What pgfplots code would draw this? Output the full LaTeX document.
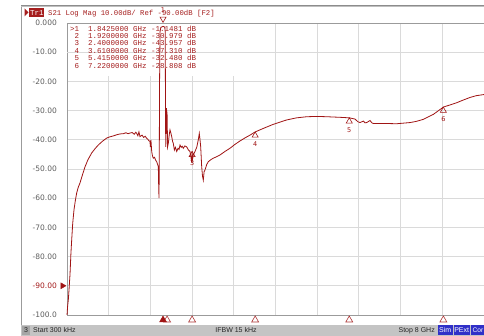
\documentclass[border=0pt]{standalone}
\usepackage{pgfplots}
\pgfplotsset{compat=1.18}
\usepackage{graphicx}
\usepackage{fontspec}
\setmainfont{Liberation Sans}
\newfontfamily\dejavu{DejaVu Sans}
\newfontfamily\mono{Liberation Mono}
\definecolor{trace}{RGB}{160,20,20}
\definecolor{mred}{RGB}{165,30,30}
\definecolor{gridc}{RGB}{218,218,218}
\definecolor{axc}{RGB}{155,155,155}
\definecolor{tickc}{RGB}{95,95,95}
\definecolor{barc}{RGB}{196,196,196}
\definecolor{boxblue}{RGB}{48,48,200}
\begin{document}
\begin{tikzpicture}[x=1pt,y=1pt]
\path[use as bounding box] (0,0) rectangle (484,336);
\fill[white] (0,0) rectangle (484,336);
% window frame
\draw[axc, line width=1pt] (21,11) -- (21,331);
\draw[black!45, line width=1.2pt] (21,330.6) -- (484,330.6);
\draw[black!25, line width=0.8pt] (21,329.3) -- (484,329.3);
% header
\fill[mred] (24.5,327.5) -- (24.5,319.5) -- (28.5,323.5) -- cycle;
\fill[mred] (29,319) rectangle (44,328);
\node[anchor=base west, inner sep=0, text=white, font=\mono\fontsize{7.5}{8}\selectfont] at (30,320.5) {Tr1};
\node[anchor=base west, inner sep=0, text=mred, font=\mono\fontsize{7.3}{8}\selectfont] at (48,320) {S21 Log Mag 10.00dB/ Ref -90.00dB [F2]};
% status bar
\fill[barc] (21,0) rectangle (484,11);
\fill[black!35] (22,1) rectangle (30,10);
\node[anchor=base, inner sep=0, font=\fontsize{7}{8}\selectfont, text=black!85] at (26,3) {3};
\node[anchor=base west, inner sep=0, font=\fontsize{7}{8}\selectfont, text=black!85] at (33,3) {Start 300 kHz};
\node[anchor=base, inner sep=0, font=\fontsize{7}{8}\selectfont, text=black!85] at (236,3) {IFBW 15 kHz};
\node[anchor=base east, inner sep=0, font=\fontsize{7}{8}\selectfont, text=black!85] at (435,3) {Stop 8 GHz};
\fill[boxblue] (438,1) rectangle (452.5,10.5);
\node[anchor=base, inner sep=0, font=\fontsize{7}{8}\selectfont, text=white] at (445.2,3) {Sim};
\fill[boxblue] (454,1) rectangle (469.5,10.5);
\node[anchor=base, inner sep=0, font=\fontsize{7}{8}\selectfont, text=white] at (461.7,3) {PExt};
\fill[boxblue] (471,1) rectangle (486,10.5);
\node[anchor=base east, inner sep=0, font=\fontsize{6.6}{8}\selectfont, text=white] at (483.4,3) {Cor};
\begin{axis}[
  at={(67pt,21pt)}, anchor=south west,
  scale only axis, width=417pt, height=292pt,
  xmin=0, xmax=8, ymin=-100, ymax=0,
  xtick={0,0.8,...,8}, xticklabels={},
  ytick={-100,-90,...,0},
  yticklabels={-100.0,\textcolor{mred}{-90.00},-80.00,-70.00,-60.00,-50.00,-40.00,-30.00,-20.00,-10.00,0.000},
  major tick length=0pt,
  grid=major, grid style={gridc, line width=0.9pt},
  axis line style={axc, line width=0.9pt},
  yticklabel style={font=\dejavu\fontsize{7.5}{8}\selectfont, text=tickc, inner sep=0pt, anchor=east, xshift=-10pt},
  clip=false,
]
% marker table background mask
\fill[white] (axis cs:0.03,-0.4) rectangle (axis cs:3.5,-18.3);
\draw[gridc, line width=0.9pt] (axis cs:0,-10) -- (axis cs:3.5,-10);
% trace
\addplot[trace, line width=0.8pt] coordinates {
(0.0003,-100) (0.012,-97) (0.025,-94.9) (0.04,-91) (0.058,-86) (0.075,-79)
(0.090,-74.3) (0.11,-68.5) (0.134,-64) (0.16,-60.8) (0.186,-58.2) (0.215,-56.3)
(0.249,-54.8) (0.30,-51.8) (0.345,-49.3) (0.40,-46.9) (0.474,-44.5) (0.54,-43)
(0.600,-41.8) (0.68,-40.5) (0.762,-39.4) (0.82,-39.0) (0.883,-38.7) (0.95,-38.3)
(1.017,-38.0) (1.08,-37.9) (1.13,-37.6) (1.17,-37.9) (1.209,-37.7) (1.25,-37.5)
(1.29,-38.1) (1.32,-37.4) (1.337,-37.8) (1.36,-38.6) (1.38,-37.3) (1.40,-38.9)
(1.44,-38.4) (1.47,-39.2) (1.50,-38.8) (1.529,-39.5) (1.55,-39.8) (1.57,-40.3)
(1.592,-40.6) (1.60,-42.5) (1.61,-40.0) (1.625,-44) (1.64,-45.5) (1.656,-46.3)
(1.68,-46.0) (1.70,-47.0) (1.721,-47.5) (1.74,-48.5) (1.752,-49.2) (1.758,-55)
(1.765,-60) (1.770,-48) (1.776,-20) (1.785,-3) (1.80,-1.5) (1.8425,-1.15)
(1.875,-1.4) (1.884,-3) (1.890,-30) (1.894,-42.4) (1.900,-40) (1.906,-29.2)
(1.92,-30.98) (1.93,-42.4) (1.944,-41.2) (1.96,-38.5) (1.976,-36.6) (1.99,-37.5)
(2.009,-38.9) (2.025,-40.5) (2.039,-41.2) (2.06,-43.5) (2.08,-42.6) (2.105,-44)
(2.13,-42.9) (2.15,-43.3) (2.168,-41.8) (2.19,-42.6) (2.21,-42.2) (2.231,-42.9)
(2.26,-42.1) (2.296,-42.4) (2.33,-43.5) (2.360,-44) (2.375,-45.6) (2.392,-47.8)
(2.40,-43.96) (2.41,-46.5) (2.423,-45.2) (2.44,-44.6) (2.456,-44) (2.49,-42.5)
(2.519,-40.0) (2.538,-37.8) (2.552,-40.0) (2.565,-42.4) (2.584,-49.2) (2.60,-52.5)
(2.615,-53.8) (2.63,-51) (2.648,-50.3) (2.68,-48.5) (2.711,-47.5) (2.76,-46.8)
(2.807,-46.3) (2.87,-45.8) (2.935,-45.2) (3.03,-44.0) (3.127,-42.9) (3.22,-41.6)
(3.319,-40.4) (3.42,-39.3) (3.511,-38.4) (3.61,-37.31) (3.78,-36.0) (3.958,-34.7)
(4.215,-33.2) (4.40,-32.5) (4.599,-32.1) (4.80,-32.0) (4.982,-32.1) (5.237,-32.3)
(5.415,-32.48) (5.525,-32.9) (5.58,-33.8) (5.621,-34.1) (5.685,-33.6) (5.72,-34.2)
(5.750,-34.1) (5.813,-33.4) (5.85,-34.2) (5.876,-34.4) (6.068,-34.4) (6.325,-34.5)
(6.580,-34.1) (6.70,-33.7) (6.836,-33.0) (7.028,-31.3) (7.22,-28.81) (7.477,-27.3)
(7.60,-26.4) (7.732,-25.5) (7.85,-24.9) (7.924,-24.7) (8.0,-24.5)
};
% trace markers 3-6
\addplot[only marks, mark=triangle, mark size=3.5pt,
  mark options={draw=trace, fill=white, line width=0.6pt, yshift=-3.5pt},
  nodes near coords, point meta=explicit symbolic,
  every node near coord/.append style={anchor=north, yshift=-5.5pt, inner sep=0.3pt, font=\dejavu\fontsize{6.5}{7}\selectfont, text=trace}]
  coordinates {(2.4,-43.957)[3] (3.61,-37.31)[4] (5.415,-32.48)[5] (7.22,-28.808)[6]};
% marker 1 at top
\addplot[only marks, mark=triangle, mark size=3.5pt,
  mark options={draw=trace, fill=white, line width=0.6pt, yshift=7.5pt, rotate=180},
  nodes near coords, point meta=explicit symbolic,
  every node near coord/.append style={anchor=north, yshift=12pt, inner sep=0.3pt, font=\dejavu\fontsize{6.5}{7}\selectfont, text=trace}]
  coordinates {(1.8425,-1.1481)[1]};
% bottom marker strip
\addplot[only marks, mark=triangle, mark size=4pt, mark options={draw=trace!85, fill=white, line width=0.6pt}]
  coordinates {(1.92,-101.7) (2.4,-101.7) (3.61,-101.7) (5.415,-101.7) (7.22,-101.7)};
\addplot[only marks, mark=triangle*, mark size=4pt, mark options={draw=trace, fill=trace}]
  coordinates {(1.8425,-101.7)};
% reference level marker
\addplot[only marks, mark=triangle*, mark size=3.5pt, mark options={draw=trace, fill=trace, rotate=-90}]
  coordinates {(-0.086,-90)};
\end{axis}
% marker readout table
\node[anchor=north west, inner sep=0pt, align=left, text=mred, font=\mono\fontsize{7.5}{7.4}\selectfont] at (70,310.5) {%
>1\ \ 1.8425000 GHz -1.1481 dB\\
\ 2\ \ 1.9200000 GHz -30.979 dB\\
\ 3\ \ 2.4000000 GHz -43.957 dB\\
\ 4\ \ 3.6100000 GHz -37.310 dB\\
\ 5\ \ 5.4150000 GHz -32.480 dB\\
\ 6\ \ 7.2200000 GHz -28.808 dB};
\end{tikzpicture}
\end{document}
